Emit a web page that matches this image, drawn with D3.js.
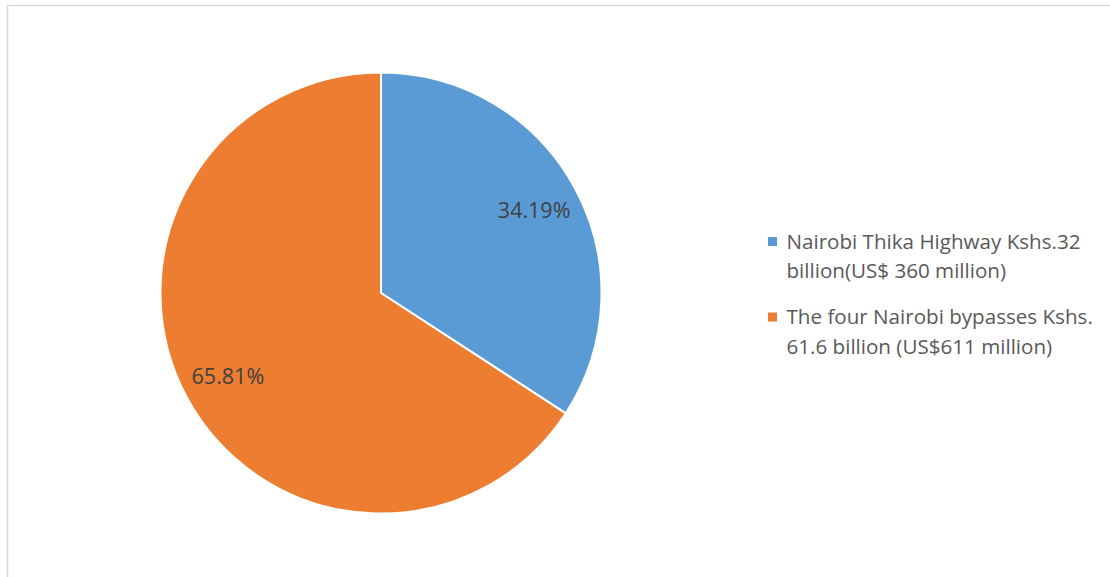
<!DOCTYPE html>
<html>
<head>
<meta charset="utf-8">
<script src="https://cdn.jsdelivr.net/npm/d3@7"></script>
<style>
  html, body { margin: 0; padding: 0; background: #fff; }
  svg { display: block; }
</style>
</head>
<body>
<svg id="chart" width="1110" height="577"></svg>
<script>
// Project costs (Kshs. billion)
const categories = [
  "Nairobi Thika Highway Kshs.32 billion(US$ 360 million)",
  "The four Nairobi bypasses Kshs. 61.6 billion (US$611 million)"
];
const legendLines = [
  ["Nairobi Thika Highway Kshs.32", "billion(US$ 360 million)"],
  ["The four Nairobi bypasses Kshs.", "61.6 billion (US$611 million)"]
];
const costs = [32, 61.6];
const colors = ["#5B9BD5", "#ED7D31"];

const W = 1110, H = 577;
const svg = d3.select("#chart");
const font = "'Open Sans', 'Noto Sans', sans-serif";

// chart area frame
svg.append("rect")
  .attr("x", 7.5).attr("y", 5.5)
  .attr("width", W + 10).attr("height", H + 10)
  .attr("fill", "none")
  .attr("stroke", "#d9d9d9")
  .attr("stroke-width", 1.5);

const cx = 381, cy = 293, r = 220.5;
const total = d3.sum(costs);

const pie = d3.pie().sort(null).value(d => d)(costs);
const arc = d3.arc().innerRadius(0).outerRadius(r);
const labelArc = d3.arc().innerRadius(r * 0.79).outerRadius(r * 0.79);

const g = svg.append("g").attr("transform", `translate(${cx},${cy})`);

g.selectAll("path.slice")
  .data(pie)
  .join("path")
  .attr("class", "slice")
  .attr("d", arc)
  .attr("fill", (d, i) => colors[i])
  .attr("stroke", "#fff")
  .attr("stroke-width", 2)
  .attr("stroke-linejoin", "round");

g.selectAll("text.pct")
  .data(pie)
  .join("text")
  .attr("class", "pct")
  .attr("transform", d => `translate(${labelArc.centroid(d)})`)
  .attr("text-anchor", "middle")
  .attr("dy", "0.35em")
  .attr("font-family", font)
  .attr("font-size", 21.5)
  .attr("fill", "#404040")
  .text(d => (d.value / total * 100).toFixed(2) + "%");

// legend
const legend = svg.append("g");
const items = legend.selectAll("g")
  .data(legendLines)
  .join("g")
  .attr("transform", (d, i) => `translate(768, ${237 + i * 75.5})`);

items.append("rect")
  .attr("width", 9).attr("height", 9)
  .attr("fill", (d, i) => colors[i]);

items.append("text")
  .attr("font-family", font)
  .attr("font-size", 20.6)
  .attr("fill", "#595959")
  .selectAll("tspan")
  .data(d => d)
  .join("tspan")
  .attr("x", 18.5)
  .attr("y", (d, i) => 11.5 + i * 29.5)
  .text(d => d);
</script>
</body>
</html>
